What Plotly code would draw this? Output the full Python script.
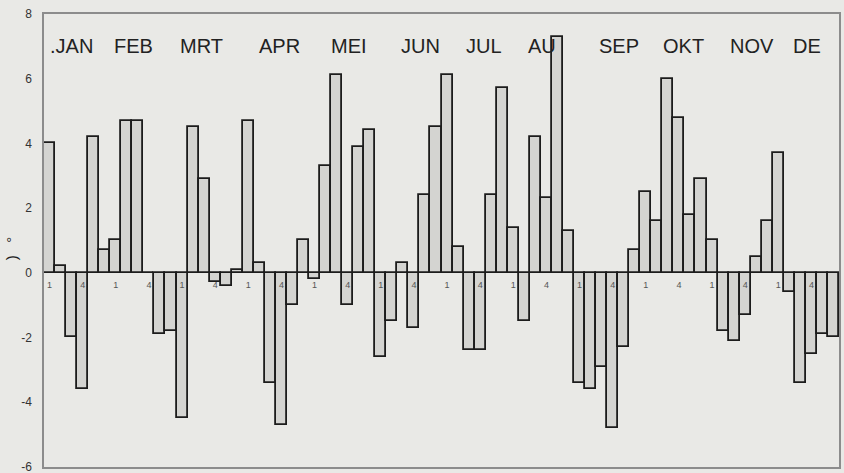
import plotly.graph_objects as go

# ---- data (pentad anomalies, 6 per month) ----
pentad_values = [
    4.0, 0.2, -2.0, -3.6, 4.2, 0.7,      # JAN
    1.0, 4.7, 4.7, 0.0, -1.9, -1.8,      # FEB
    -4.5, 4.5, 2.9, -0.3, -0.4, 0.1,     # MRT
    4.7, 0.3, -3.4, -4.7, -1.0, 1.0,     # APR
    -0.2, 3.3, 6.1, -1.0, 3.9, 4.4,      # MEI
    -2.6, -1.5, 0.3, -1.7, 2.4, 4.5,     # JUN
    6.1, 0.8, -2.4, -2.4, 2.4, 5.7,      # JUL
    1.4, -1.5, 4.2, 2.3, 7.3, 1.3,       # AUG
    -3.4, -3.6, -2.9, -4.8, -2.3, 0.7,   # SEP
    2.5, 1.6, 6.0, 4.8, 1.8, 2.9,        # OKT
    1.0, -1.8, -2.1, -1.3, 0.5, 1.6,     # NOV
    3.7, -0.6, -3.4, -2.5, -1.9, -2.0,   # DEC
]
month_labels = [".JAN", "FEB", "MRT", "APR", "MEI", "JUN", "JUL", "AU",
                "SEP", "OKT", "NOV", "DE"]
pentad_tick_labels = ["1", "4"]
y_ticks = [-6, -4, -2, 0, 2, 4, 6, 8]
y_tick_text = ["-6", "-4", "-2", "0", "2", "4", "6", "8"]

# ---- layout helpers (positions, not data) ----
month_label_pos = [3.03, 8.64, 14.79, 21.79, 28.12, 34.63, 40.33, 45.57,
                   52.53, 58.41, 64.65, 69.58]
n = len(pentad_values)
x = list(range(1, n + 1))

bg = "#e9e9e6"
fig = go.Figure()
fig.add_trace(go.Bar(
    x=x, y=pentad_values,
    marker=dict(color="#d4d4d1", line=dict(color="#1c1c1c", width=1.8)),
    hoverinfo="skip",
))

# small pentad labels "1" and "4" under the zero line
lab_x, lab_t = [], []
for m in range(12):
    for t in pentad_tick_labels:
        lab_x.append(m * 6 + int(t))
        lab_t.append(t)
fig.add_trace(go.Scatter(
    x=lab_x, y=[-0.41] * len(lab_x), mode="text", text=lab_t,
    textfont=dict(family="Liberation Sans, Arial", size=9, color="#555"),
    hoverinfo="skip",
))

for pos, name in zip(month_label_pos, month_labels):
    fig.add_annotation(x=pos, y=7.0, xref="x", yref="y", text=name,
                       showarrow=False,
                       font=dict(family="Liberation Sans, Arial", size=20,
                                 color="#222"))

fig.add_annotation(x=-0.0415, y=0.483, xref="paper", yref="paper",
                   xanchor="center", yanchor="middle",
                   text=")   °", textangle=-90, showarrow=False,
                   font=dict(family="Liberation Sans, Arial", size=15,
                             color="#222"))

fig.update_layout(
    width=844, height=473,
    margin=dict(l=44, r=5, t=14, b=6, autoexpand=False),
    paper_bgcolor=bg, plot_bgcolor=bg,
    bargap=0, showlegend=False,
    xaxis=dict(range=[0.5, n + 0.5], showticklabels=False, showgrid=False,
               zeroline=False, showline=True, mirror=True, automargin=False,
               linecolor="#8c8c8c", linewidth=1.5, ticks=""),
    yaxis=dict(range=[-6.004, 8.0], tickvals=y_ticks, ticktext=y_tick_text,
               showgrid=False, automargin=False,
               zeroline=False, showline=True, mirror=True,
               linecolor="#8c8c8c", linewidth=1.5, ticks="",
               ticklabelstandoff=8, ticklabeloverflow="allow",
               tickfont=dict(family="Liberation Sans, Arial", size=12,
                             color="#333")),
)

fig.write_html("out.html",
               config={"displayModeBar": False},
               post_script="document.body.style.margin='0';"
                           "document.body.style.background='%s';" % bg)
